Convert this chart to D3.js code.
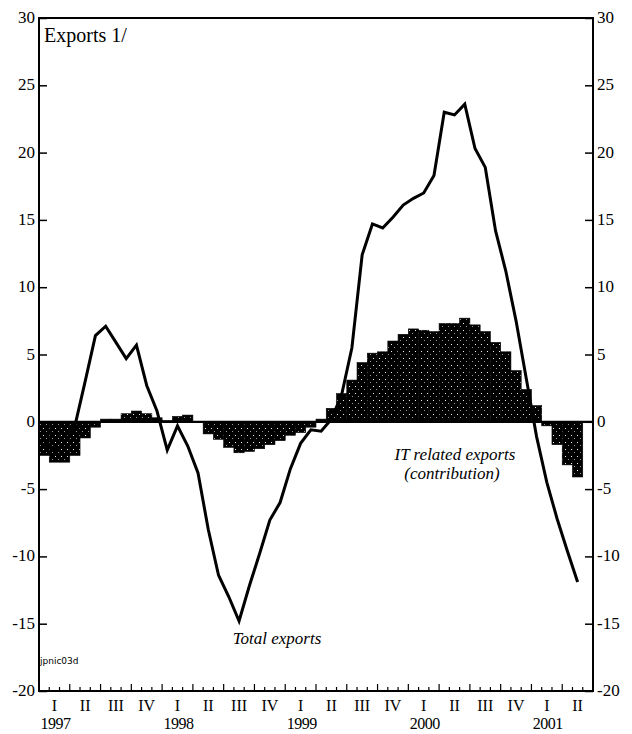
<!DOCTYPE html>
<html>
<head>
<meta charset="utf-8">
<script src="https://cdn.jsdelivr.net/npm/d3@7"></script>
<style>
  body { margin: 0; background: #fff; }
  text { font-family: "Liberation Serif", "Times New Roman", serif; fill: #000; }
</style>
</head>
<body>
<script>
var width = 632, height = 734;
var plotL = 39, plotR = 593, plotT = 18, plotB = 691;

var quarters = ["I", "II", "III", "IV"];
var years = [1997, 1998, 1999, 2000, 2001];
var nmonths = 54;           // Jan 1997 .. Jun 2001 on the axis
var yticks = [30, 25, 20, 15, 10, 5, 0, -5, -10, -15, -20];

// total exports, monthly from Jan 1997 (y/y percent)
var total = [-1.5, -2.2, -1.6, -0.3, 3.0, 6.4, 7.1, 5.9, 4.7, 5.7, 2.7, 0.8,
             -2.1, -0.3, -1.8, -3.8, -8.0, -11.4, -13.0, -14.8, -12.2, -9.8, -7.3, -6.0,
             -3.5, -1.6, -0.6, -0.7, 0.2, 2.0, 5.5, 12.4, 14.7, 14.4, 15.2, 16.1,
             16.6, 17.0, 18.3, 23.0, 22.8, 23.6, 20.3, 18.9, 14.2, 11.2, 7.5, 3.2,
             -1.1, -4.5, -7.2, -9.6, -11.9];

// IT related exports, contribution
var itrel = [-2.5, -3.0, -3.0, -2.5, -1.2, -0.4, 0.2, 0.2, 0.6, 0.8, 0.6, 0.3,
             0.1, 0.4, 0.5, 0.0, -0.9, -1.3, -1.9, -2.3, -2.2, -2.0, -1.7, -1.4,
             -1.0, -0.8, -0.4, 0.2, 1.0, 2.1, 3.1, 4.4, 5.1, 5.2, 6.0, 6.5,
             6.9, 6.8, 6.7, 7.3, 7.3, 7.7, 7.2, 6.7, 5.9, 5.2, 3.8, 2.4,
             1.2, -0.3, -1.7, -3.2, -4.1];

var x = d3.scaleBand().domain(d3.range(nmonths)).range([plotL, plotR]).padding(0);
var y = d3.scaleLinear().domain([-20, 30]).range([plotB, plotT]);

var svg = d3.select("body").append("svg")
  .attr("width", width)
  .attr("height", height);

// stippled dark fill for the bars (mostly black, sparse light specks)
var pat = svg.append("defs").append("pattern")
  .attr("id", "stip").attr("patternUnits", "userSpaceOnUse")
  .attr("width", 6).attr("height", 7);
pat.append("rect").attr("width", 6).attr("height", 7).attr("fill", "#000");
pat.append("rect").attr("x", 1).attr("y", 1).attr("width", 1).attr("height", 1).attr("fill", "#eee");
pat.append("rect").attr("x", 4).attr("y", 4).attr("width", 1).attr("height", 1).attr("fill", "#999");

svg.append("g").selectAll("rect").data(itrel)
  .enter().append("rect")
  .attr("x", function(d, i) { return x(i); })
  .attr("y", function(d) { return y(Math.max(0, d)); })
  .attr("width", x.bandwidth())
  .attr("height", function(d) { return Math.abs(y(d) - y(0)); })
  .attr("fill", "url(#stip)")
  .attr("stroke", "#000").attr("stroke-width", 0.6);

// zero line
svg.append("line")
  .attr("x1", plotL).attr("x2", plotR)
  .attr("y1", y(0)).attr("y2", y(0))
  .attr("stroke", "#000").attr("stroke-width", 2.2);

var line = d3.line()
  .x(function(d, i) { return x(i) + x.bandwidth() / 2; })
  .y(function(d) { return y(d); });

svg.append("path").datum(total)
  .attr("d", line)
  .attr("fill", "none").attr("stroke", "#000")
  .attr("stroke-width", 3).attr("stroke-linejoin", "miter");

// frame
svg.append("rect")
  .attr("x", plotL).attr("y", plotT)
  .attr("width", plotR - plotL).attr("height", plotB - plotT)
  .attr("fill", "none").attr("stroke", "#000").attr("stroke-width", 2);

// y axes, ticks pointing inward, labels outside
svg.append("g").attr("transform", "translate(" + plotL + ",0)")
  .call(d3.axisRight(y).tickValues(yticks).tickSize(8).tickFormat(""));
svg.append("g").attr("transform", "translate(" + plotR + ",0)")
  .call(d3.axisLeft(y).tickValues(yticks).tickSize(8).tickFormat(""));
svg.selectAll(".domain").remove();
svg.selectAll(".tick line").attr("stroke", "#000").attr("stroke-width", 1.5);

svg.append("g").selectAll("text").data(yticks)
  .enter().append("text")
  .attr("x", plotL - 4).attr("y", function(d) { return y(d) + 5; })
  .attr("text-anchor", "end").attr("font-size", 17)
  .text(function(d) { return d; });
svg.append("g").selectAll("text").data(yticks)
  .enter().append("text")
  .attr("x", plotR + 4).attr("y", function(d) { return y(d) + 5; })
  .attr("text-anchor", "start").attr("font-size", 17)
  .text(function(d) { return d; });

// month ticks on the bottom, taller at quarter boundaries
svg.append("g").selectAll("line").data(d3.range(1, nmonths))
  .enter().append("line")
  .attr("x1", function(d) { return x(d); })
  .attr("x2", function(d) { return x(d); })
  .attr("y1", plotB)
  .attr("y2", function(d) { return plotB - (d % 3 === 0 ? 7 : 4); })
  .attr("stroke", "#000").attr("stroke-width", 1.2);

// quarter and year labels
var qlabels = d3.range(nmonths / 3).map(function(q) { return quarters[q % 4]; });
svg.append("g").selectAll("text").data(qlabels)
  .enter().append("text")
  .attr("x", function(d, q) { return x(q * 3) + 1.5 * x.bandwidth(); })
  .attr("y", 711)
  .attr("text-anchor", "middle").attr("font-size", 16)
  .text(function(d) { return d; });
svg.append("g").selectAll("text").data(years)
  .enter().append("text")
  .attr("x", function(d, i) { return x(i * 12) + 1.6 * x.bandwidth(); })
  .attr("y", 729)
  .attr("text-anchor", "middle").attr("font-size", 16)
  .attr("letter-spacing", -0.5)
  .text(function(d) { return d; });

// annotations
svg.append("text").attr("x", 44).attr("y", 42)
  .attr("font-size", 20).text("Exports 1/");
svg.append("text").attr("x", 277).attr("y", 644)
  .attr("text-anchor", "middle").attr("font-size", 17)
  .attr("font-style", "italic").text("Total exports");
svg.append("text").attr("x", 455).attr("y", 460)
  .attr("text-anchor", "middle").attr("font-size", 17)
  .attr("font-style", "italic").text("IT related exports");
svg.append("text").attr("x", 452).attr("y", 479)
  .attr("text-anchor", "middle").attr("font-size", 17)
  .attr("font-style", "italic").text("(contribution)");
svg.append("text").attr("x", 40).attr("y", 664)
  .attr("font-size", 9).style("font-family", "'DejaVu Sans', sans-serif")
  .text("jpnic03d");
</script>
</body>
</html>
